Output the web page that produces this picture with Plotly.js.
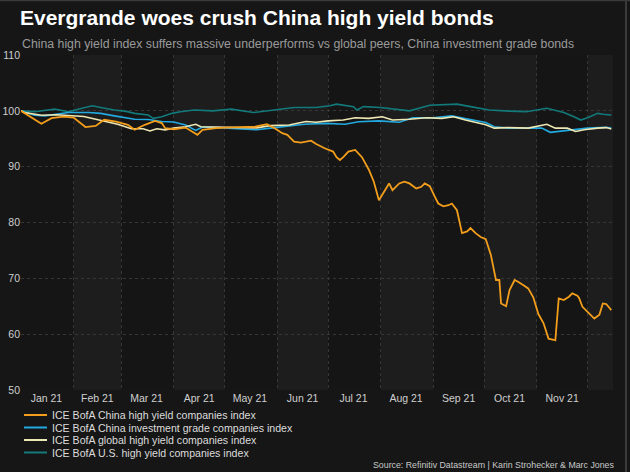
<!DOCTYPE html>
<html>
<head>
<meta charset="utf-8">
<script src="https://cdn.plot.ly/plotly-3.0.1.min.js"></script>
<style>
  html, body { margin: 0; padding: 0; background: #161616; }
  #chart { width: 630px; height: 472px; }
</style>
</head>
<body>
<div id="chart"></div>
<script>
// ---- Data ----
const seriesNames = [
  "ICE BofA China high yield companies index",
  "ICE BofA China investment grade companies index",
  "ICE BofA global high yield companies index",
  "ICE BofA U.S. high yield companies index"
];

const chinaHyDates = ["2021-01-01","2021-01-13","2021-01-19","2021-01-26","2021-02-01","2021-02-08","2021-02-14","2021-02-19","2021-02-26","2021-03-05","2021-03-09","2021-03-15","2021-03-21","2021-03-25","2021-03-27","2021-04-01","2021-04-08","2021-04-15","2021-04-18","2021-04-26","2021-05-06","2021-05-19","2021-05-26","2021-05-31","2021-06-04","2021-06-07","2021-06-11","2021-06-15","2021-06-21","2021-06-24","2021-06-29","2021-07-04","2021-07-06","2021-07-08","2021-07-10","2021-07-13","2021-07-17","2021-07-21","2021-07-25","2021-07-28","2021-07-31","2021-08-04","2021-08-06","2021-08-08","2021-08-12","2021-08-15","2021-08-18","2021-08-22","2021-08-25","2021-08-27","2021-08-30","2021-09-02","2021-09-04","2021-09-07","2021-09-10","2021-09-12","2021-09-15","2021-09-18","2021-09-21","2021-09-23","2021-09-26","2021-09-29","2021-10-02","2021-10-05","2021-10-08","2021-10-10","2021-10-11","2021-10-14","2021-10-16","2021-10-19","2021-10-21","2021-10-24","2021-10-27","2021-10-30","2021-11-02","2021-11-05","2021-11-08","2021-11-11","2021-11-12","2021-11-14","2021-11-17","2021-11-20","2021-11-22","2021-11-25","2021-11-26","2021-11-28","2021-12-01","2021-12-05","2021-12-08","2021-12-10","2021-12-12","2021-12-15"];
const chinaHyValues = [100.0,97.7,98.7,98.95,98.8,97.1,97.3,98.4,98.05,97.5,96.6,97.5,98.2,97.8,96.9,96.7,97.0,95.7,96.6,96.9,97.05,97.15,97.6,96.8,96.0,95.7,94.5,94.3,94.65,94.05,93.3,92.7,91.7,91.2,91.7,92.7,93.0,91.7,89.5,87.3,84.0,86.1,87.0,85.8,87.0,87.3,87.0,86.1,86.4,87.0,86.5,84.6,83.4,82.9,83.1,83.4,82.2,78.1,78.4,79.0,78.1,77.4,77.0,74.2,69.7,69.7,65.5,65.0,67.9,69.7,69.4,68.8,68.2,66.6,63.6,62.0,59.2,59.0,58.9,66.4,66.1,66.7,67.3,66.9,66.5,64.9,64.0,62.8,63.5,65.5,65.4,64.3];

const chinaIgDates = ["2021-01-01","2021-01-09","2021-01-15","2021-01-23","2021-01-29","2021-02-10","2021-02-17","2021-02-25","2021-03-04","2021-03-09","2021-03-17","2021-03-25","2021-04-01","2021-04-08","2021-04-14","2021-04-18","2021-04-27","2021-05-08","2021-05-20","2021-05-28","2021-06-08","2021-06-17","2021-06-30","2021-07-11","2021-07-19","2021-07-31","2021-08-12","2021-08-20","2021-09-01","2021-09-12","2021-09-19","2021-09-27","2021-10-02","2021-10-07","2021-10-15","2021-10-29","2021-11-04","2021-11-09","2021-11-16","2021-11-24","2021-12-01","2021-12-12","2021-12-15"];
const chinaIgValues = [100.0,99.2,99.1,99.4,99.7,99.7,99.55,99.1,98.7,98.5,98.45,98.1,98.0,97.45,96.5,97.1,97.0,96.75,96.6,96.9,97.3,97.6,97.75,97.6,98.05,98.2,97.95,98.75,98.75,99.1,98.65,98.2,97.9,97.15,96.9,96.9,96.9,96.15,96.4,96.6,96.9,97.05,96.9];

const globalHyDates = ["2021-01-01","2021-01-03","2021-01-13","2021-01-22","2021-02-07","2021-02-21","2021-02-27","2021-03-07","2021-03-14","2021-03-18","2021-03-22","2021-03-27","2021-04-01","2021-04-08","2021-04-14","2021-04-17","2021-04-24","2021-05-07","2021-05-20","2021-05-28","2021-06-08","2021-06-18","2021-06-24","2021-07-01","2021-07-10","2021-07-17","2021-07-25","2021-08-02","2021-08-08","2021-08-18","2021-08-28","2021-09-06","2021-09-13","2021-09-20","2021-09-28","2021-10-02","2021-10-07","2021-10-15","2021-10-27","2021-11-07","2021-11-12","2021-11-19","2021-11-24","2021-11-29","2021-12-07","2021-12-12","2021-12-15"];
const globalHyValues = [100.0,99.7,99.2,99.3,99.0,98.1,97.6,96.8,96.8,96.4,96.8,96.6,96.9,97.15,97.6,97.15,97.1,97.05,96.95,97.35,97.45,98.1,97.95,98.2,98.35,98.75,98.65,98.95,98.35,98.5,98.75,98.65,98.95,98.35,97.75,97.5,96.9,97.0,96.9,97.6,96.9,96.9,96.3,96.6,96.9,97.0,96.75];

const usHyDates = ["2021-01-01","2021-01-09","2021-01-21","2021-01-29","2021-02-06","2021-02-12","2021-02-17","2021-02-25","2021-03-04","2021-03-09","2021-03-17","2021-03-20","2021-03-25","2021-03-31","2021-04-05","2021-04-13","2021-04-24","2021-05-05","2021-05-18","2021-05-31","2021-06-11","2021-06-24","2021-07-02","2021-07-06","2021-07-16","2021-07-18","2021-07-22","2021-08-01","2021-08-18","2021-08-30","2021-09-15","2021-09-23","2021-10-04","2021-10-16","2021-10-26","2021-11-07","2021-11-17","2021-11-23","2021-11-27","2021-12-01","2021-12-07","2021-12-10","2021-12-15"];
const usHyValues = [100.0,99.85,100.3,99.85,100.45,100.9,100.6,100.15,99.9,99.55,99.25,98.65,98.95,99.55,99.85,100.15,100.0,100.3,99.7,100.15,100.6,100.6,100.9,101.2,100.75,100.15,100.75,100.6,100.0,101.0,101.2,100.75,100.15,99.95,99.85,100.45,99.7,98.95,98.35,98.75,99.55,99.4,99.25];

const monthStarts = ["2021-01-01","2021-02-01","2021-03-01","2021-04-01","2021-05-01","2021-06-01","2021-07-01","2021-08-01","2021-09-01","2021-10-01","2021-11-01","2021-12-01"];
const tickDates = ["2021-01-16","2021-02-15","2021-03-16","2021-04-16","2021-05-16","2021-06-16","2021-07-16","2021-08-16","2021-09-16","2021-10-16","2021-11-16"];
const tickLabels = ["Jan 21","Feb 21","Mar 21","Apr 21","May 21","Jun 21","Jul 21","Aug 21","Sep 21","Oct 21","Nov 21"];
const yTicks = [50, 60, 70, 80, 90, 100, 110];

const titleText = "Evergrande woes crush China high yield bonds";
const subtitleText = "China high yield index suffers massive underperforms vs global peers, China investment grade bonds";
const sourceText = "Source: Refinitiv Datastream | Karin Strohecker & Marc Jones";

// ---- Styles ----
const colors = ["#f29d1b", "#22a9df", "#ede7b3", "#127a7b"];
const xStart = "2021-01-01", xEnd = "2021-12-16";
const FONT = "Liberation Sans, Arial, sans-serif";

const W = 630, H = 472, mL = 21, mR = 17, mT = 55, mB = 82;
const plotW = W - mL - mR, plotH = H - mT - mB;
const px = x => (x - mL) / plotW;
const py = y => (H - mB - y) / plotH;

const xs = [chinaHyDates, chinaIgDates, globalHyDates, usHyDates];
const ys = [chinaHyValues, chinaIgValues, globalHyValues, usHyValues];

// draw order: US (back), China IG, global, China HY (front)
const order = [3, 1, 2, 0];
const traces = order.map(i => ({
  type: "scatter", mode: "lines",
  x: xs[i], y: ys[i], name: seriesNames[i],
  line: { color: colors[i], width: i === 0 ? 1.8 : 1.6 },
  showlegend: false, hoverinfo: "skip"
}));

const shapes = [];
// alternating monthly bands
for (let i = 0; i < monthStarts.length; i++) {
  if (i % 2 === 1) {
    shapes.push({
      type: "rect", layer: "below", xref: "x", yref: "paper",
      x0: monthStarts[i], x1: (i + 1 < monthStarts.length ? monthStarts[i + 1] : xEnd),
      y0: 0, y1: 1, fillcolor: "#1d1d1d", line: { width: 0 }
    });
  }
}
// manual legend
const annotations = [];
const legY = [415, 427.5, 440, 452.5];
for (let i = 0; i < seriesNames.length; i++) {
  shapes.push({
    type: "line", xref: "paper", yref: "paper",
    x0: px(24), x1: px(47), y0: py(legY[i]), y1: py(legY[i]),
    line: { color: colors[i], width: 2 }
  });
  annotations.push({
    xref: "paper", yref: "paper", x: px(50), y: py(legY[i]),
    xanchor: "left", yanchor: "middle", showarrow: false,
    text: seriesNames[i], font: { family: FONT, size: 10.6, color: "#dcdcdc" }
  });
}
// frame lines of the graphic
shapes.push({ type: "line", xref: "paper", yref: "paper", x0: px(626), x1: px(626), y0: py(472), y1: py(0), line: { color: "#3a3a3a", width: 2 } });
shapes.push({ type: "line", xref: "paper", yref: "paper", x0: px(0), x1: px(630), y0: py(0.5), y1: py(0.5), line: { color: "#3a3a3a", width: 1.5 } });

annotations.push({
  xref: "paper", yref: "paper", x: px(20), y: py(44),
  xanchor: "left", yanchor: "middle", showarrow: false,
  text: subtitleText, font: { family: FONT, size: 12.3, color: "#9a9a9a" }
});
annotations.push({
  xref: "paper", yref: "paper", x: px(616), y: py(465),
  xanchor: "right", yanchor: "middle", showarrow: false,
  text: sourceText, font: { family: FONT, size: 8.8, color: "#c8c8c8" }
});

const layout = {
  width: W, height: H,
  margin: { l: mL, r: mR, t: mT, b: mB, pad: 0 },
  paper_bgcolor: "#161616", plot_bgcolor: "#151515",
  title: {
    text: "<b>" + titleText + "</b>",
    xref: "container", yref: "container",
    x: 20 / W, xanchor: "left", y: 1 - 18 / H, yanchor: "middle",
    font: { family: FONT, size: 21, color: "#ffffff" }
  },
  xaxis: {
    type: "date", range: [xStart, xEnd],
    tickmode: "array", tickvals: tickDates, ticktext: tickLabels,
    showgrid: false, zeroline: false, showline: false, ticks: "",
    tickfont: { family: FONT, size: 10.5, color: "#cfcfcf" },
    minor: { tickmode: "array", tickvals: monthStarts, showgrid: true, gridcolor: "#363636", griddash: "dot", gridwidth: 1, ticks: "" }
  },
  yaxis: {
    range: [50, 110], tickmode: "array", tickvals: yTicks,
    showgrid: true, gridcolor: "#363636", griddash: "dot", gridwidth: 1,
    zeroline: false, showline: false, ticks: "",
    tickfont: { family: FONT, size: 10.5, color: "#cfcfcf" }
  },
  shapes: shapes,
  annotations: annotations,
  showlegend: false
};

Plotly.newPlot("chart", traces, layout, { displayModeBar: false, staticPlot: true });
</script>
</body>
</html>
